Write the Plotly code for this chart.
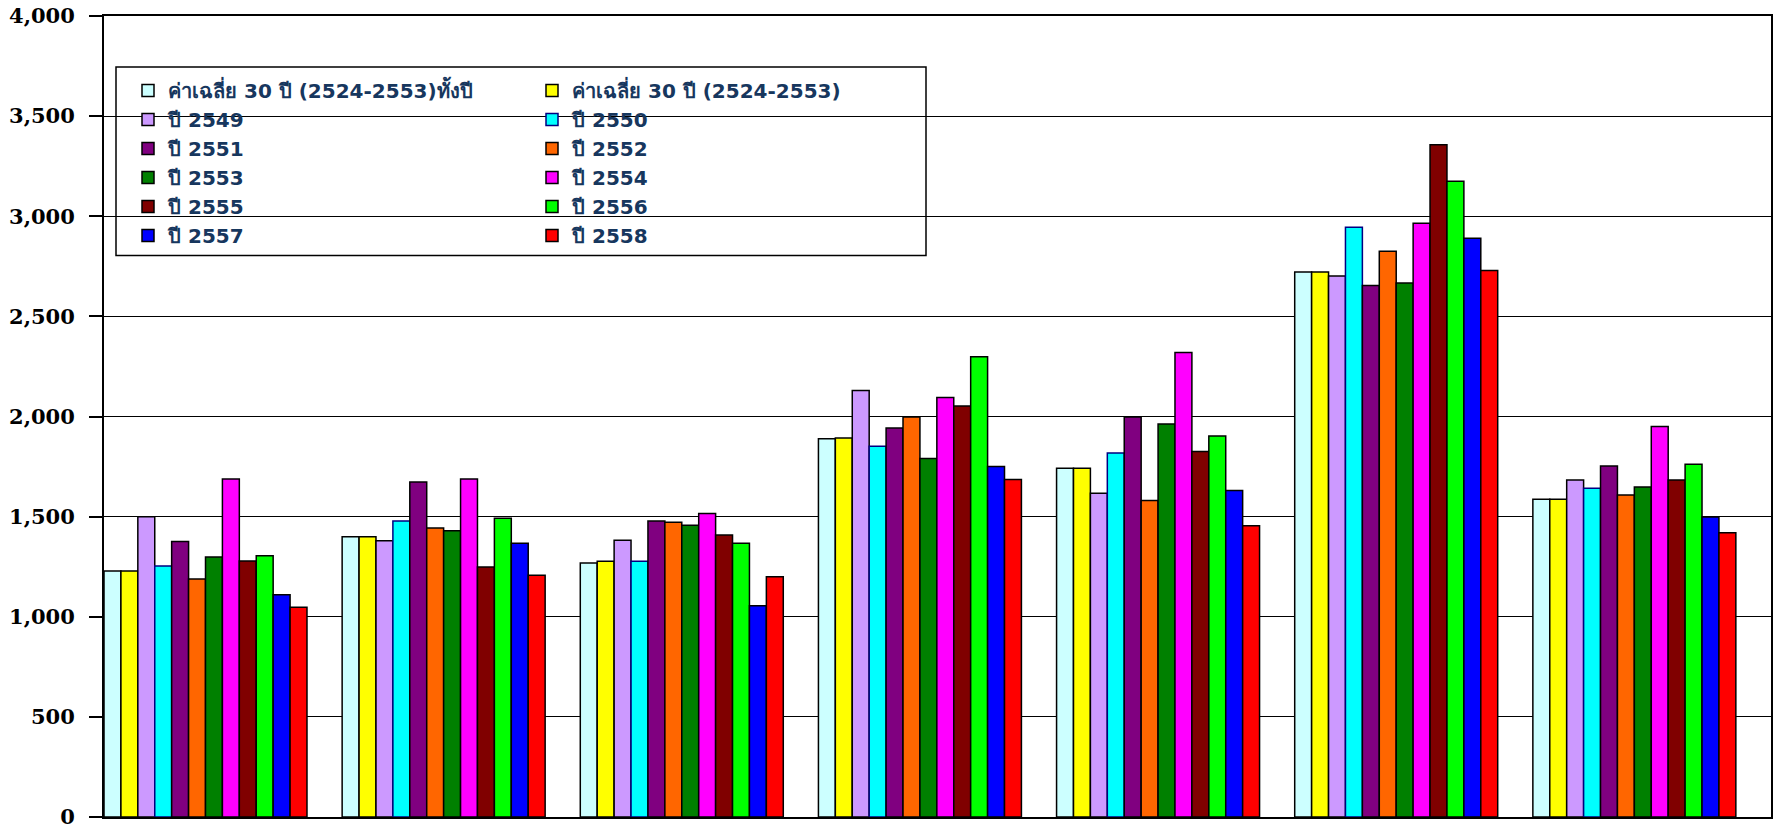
import plotly.graph_objects as go

categories = ["ภาคเหนือ", "ภาคตะวันออกเฉียงเหนือ", "ภาคกลาง", "ภาคตะวันออก",
              "ภาคใต้ฝั่งตะวันออก", "ภาคใต้ฝั่งตะวันตก", "ทั้งประเทศ"]

series_names = ["ค่าเฉลี่ย 30 ปี (2524-2553)ทั้งปี", "ค่าเฉลี่ย 30 ปี (2524-2553)",
                "ปี 2549", "ปี 2550", "ปี 2551", "ปี 2552", "ปี 2553", "ปี 2554",
                "ปี 2555", "ปี 2556", "ปี 2557", "ปี 2558"]

avg_30y_year = [1228, 1400, 1268, 1889, 1742, 2722, 1587]
avg_30y = [1228, 1400, 1277, 1893, 1742, 2722, 1587]
y2549 = [1500, 1380, 1382, 2130, 1617, 2702, 1683]
y2550 = [1253, 1478, 1277, 1852, 1818, 2945, 1642]
y2551 = [1376, 1673, 1478, 1942, 1998, 2654, 1753]
y2552 = [1188, 1443, 1472, 1998, 1580, 2825, 1608]
y2553 = [1298, 1430, 1457, 1790, 1963, 2667, 1648]
y2554 = [1688, 1688, 1515, 2095, 2320, 2965, 1950]
y2555 = [1278, 1248, 1408, 2053, 1825, 3357, 1683]
y2556 = [1305, 1492, 1367, 2298, 1902, 3175, 1762]
y2557 = [1110, 1367, 1055, 1750, 1630, 2890, 1498]
y2558 = [1048, 1207, 1200, 1685, 1455, 2729, 1420]

series_values = [avg_30y_year, avg_30y, y2549, y2550, y2551, y2552, y2553,
                 y2554, y2555, y2556, y2557, y2558]

colors = ["#CCFFFF", "#FFFF00", "#CC99FF", "#00FFFF", "#800080", "#FF6600",
          "#008000", "#FF00FF", "#800000", "#00FF00", "#0000FF", "#FF0000"]
outline = ["#000000"] * 12
outline[3] = "#000080"

y_ticks = [0, 500, 1000, 1500, 2000, 2500, 3000, 3500, 4000]

fig = go.Figure()
for i, (name, vals) in enumerate(zip(series_names, series_values)):
    fig.add_trace(go.Bar(
        x=categories, y=vals, name=name,
        marker=dict(color=colors[i], line=dict(color=outline[i], width=1.5)),
        legend="legend" if i % 2 == 0 else "legend2",
    ))

W, H = 1777, 828
ml, mr, mt, mb = 104, 6, 16, 11
pw = W - ml - mr
ph = H - mt - mb
gap = 0.1476

def px_x(x):
    return (x - ml) / pw

def px_y(y):
    return (H - mb - y) / ph

legend_font = dict(family="DejaVu Sans, Noto Sans, sans-serif", size=20,
                   color="#17375E", weight="bold")

fig.update_layout(
    width=W, height=H,
    margin=dict(l=ml, r=mr, t=mt, b=mb, autoexpand=False),
    plot_bgcolor="white", paper_bgcolor="white",
    barmode="group", bargap=gap, bargroupgap=0,
    showlegend=True,
    legend=dict(x=px_x(128), y=px_y(71), xanchor="left", yanchor="top",
                bgcolor="rgba(0,0,0,0)", borderwidth=0, font=legend_font,
                traceorder="normal"),
    legend2=dict(x=px_x(532), y=px_y(71), xanchor="left", yanchor="top",
                 bgcolor="rgba(0,0,0,0)", borderwidth=0, font=legend_font,
                 traceorder="normal"),
    xaxis=dict(type="category", range=[-0.5 + gap / 2, 6.5 + gap / 2],
               showticklabels=False, ticks="", showgrid=False,
               showline=True, linecolor="black", linewidth=2, mirror=True,
               zeroline=False),
    yaxis=dict(range=[0, 4000], tickvals=y_ticks, tickformat=",",
               ticks="outside", ticklen=13, tickwidth=1.5, tickcolor="black",
               ticklabelstandoff=10, ticklabeloverflow="allow",
               tickfont=dict(family="DejaVu Serif, Liberation Serif, serif", size=21,
                             color="black", weight="bold"),
               showgrid=True, gridcolor="black", gridwidth=1.3,
               showline=True, linecolor="black", linewidth=2, mirror=True,
               zeroline=False),
    shapes=[dict(type="rect", xref="paper", yref="paper",
                 x0=px_x(116), x1=px_x(926), y0=px_y(255.5), y1=px_y(67),
                 line=dict(color="black", width=1.5), fillcolor="white",
                 layer="between")],
)

fig.write_html("out.html",
               config={"displayModeBar": False},
               post_script="document.body.style.margin='0';"
                           "document.body.style.padding='0';"
                           "document.body.style.overflow='hidden';")
